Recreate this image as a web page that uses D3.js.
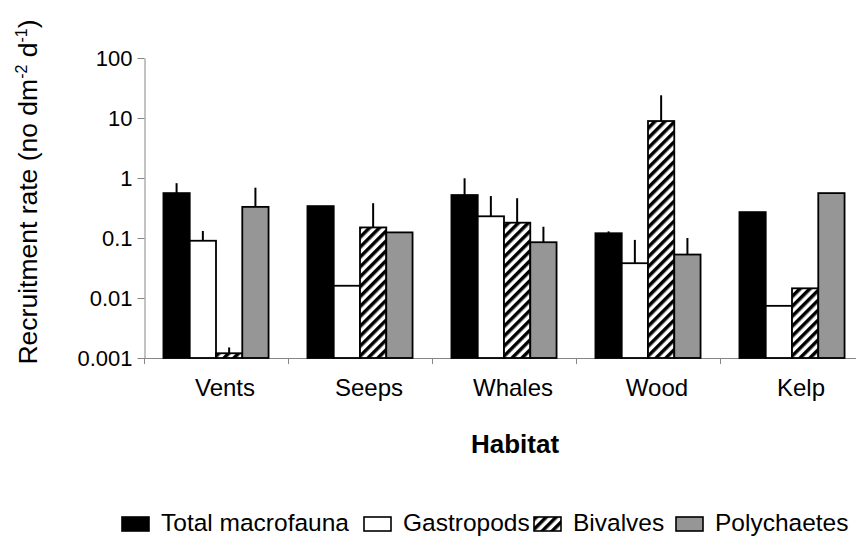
<!DOCTYPE html>
<html>
<head>
<meta charset="utf-8">
<script src="https://cdn.jsdelivr.net/npm/d3@7"></script>
<style>
  body { margin: 0; background: #fff; }
  svg text { font-family: "Liberation Sans", Arial, sans-serif; fill: #000; }
  .axis path, .axis line { stroke: #868686; stroke-width: 1; }
  .axis text { font-size: 22px; }
</style>
</head>
<body>
<div id="chart"></div>
<script>
// habitats and series
const categories = ['Vents', 'Seeps', 'Whales', 'Wood', 'Kelp'];
const seriesNames = ['Total macrofauna', 'Gastropods', 'Bivalves', 'Polychaetes'];

// mean recruitment rates (no dm-2 d-1), one value per habitat
const totalMacrofauna = [0.56, 0.34, 0.52, 0.12, 0.27];
const gastropods = [0.09, 0.016, 0.23, 0.038, 0.0074];
const bivalves = [0.0012, 0.15, 0.18, 8.9, 0.0145];
const polychaetes = [0.33, 0.124, 0.085, 0.053, 0.56];

// upper error (SE), null where no bar was drawn
const totalErr = [0.26, null, 0.47, 0.009, null];
const gastroErr = [0.041, null, 0.27, 0.055, null];
const bivalveErr = [0.0003, 0.23, 0.28, 15, null];
const polyErr = [0.36, null, 0.069, 0.047, null];

const yTicks = [0.001, 0.01, 0.1, 1, 10, 100];
const yTickLabels = ['0.001', '0.01', '0.1', '1', '10', '100'];

const values = [totalMacrofauna, gastropods, bivalves, polychaetes];
const errors = [totalErr, gastroErr, bivalveErr, polyErr];
const fills = ['#000000', '#ffffff', 'url(#hatch)', '#969696'];

const width = 856;
const height = 536;
const plot = { left: 144, right: 864, top: 58, bottom: 358 };

const svg = d3
  .select('#chart')
  .append('svg')
  .attr('width', width)
  .attr('height', height);

// diagonal stripe pattern for the bivalve bars
const defs = svg.append('defs');
defs
  .append('pattern')
  .attr('id', 'hatch')
  .attr('patternUnits', 'userSpaceOnUse')
  .attr('width', 7)
  .attr('height', 7)
  .attr('patternTransform', 'rotate(45)')
  .call((p) => {
    p.append('rect').attr('width', 7).attr('height', 7).attr('fill', '#fff');
    p.append('rect').attr('width', 3.5).attr('height', 7).attr('fill', '#000');
  });

// scales
const x0 = d3.scaleBand().domain(categories).range([plot.left, plot.right]).paddingInner(0).paddingOuter(0);
const x1 = d3.scaleBand().domain(d3.range(seriesNames.length)).range([0, x0.bandwidth()]).paddingInner(0).paddingOuter(0.74);
const y = d3.scaleLog().domain([0.001, 100]).range([plot.bottom, plot.top]);

// x axis line and category ticks
const xAxis = svg.append('g').attr('class', 'axis');
xAxis
  .append('line')
  .attr('x1', plot.left)
  .attr('x2', plot.right)
  .attr('y1', plot.bottom + 0.5)
  .attr('y2', plot.bottom + 0.5);
xAxis
  .selectAll('.ctick')
  .data(categories)
  .join('line')
  .attr('class', 'ctick')
  .attr('x1', (d) => Math.round(x0(d)) + 0.5)
  .attr('x2', (d) => Math.round(x0(d)) + 0.5)
  .attr('y1', plot.bottom)
  .attr('y2', plot.bottom + 6);
svg
  .append('g')
  .selectAll('text')
  .data(categories)
  .join('text')
  .attr('x', (d) => x0(d) + x0.bandwidth() / 2 + 9)
  .attr('y', 396)
  .attr('text-anchor', 'middle')
  .style('font-size', '24px')
  .text((d) => d);

// y axis
svg
  .append('g')
  .attr('class', 'axis')
  .attr('transform', `translate(${plot.left + 0.5},0)`)
  .call(
    d3
      .axisLeft(y)
      .tickValues(yTicks)
      .tickFormat((d, i) => yTickLabels[i])
      .tickSize(7)
      .tickSizeOuter(0)
      .tickPadding(5)
  );

// bars
const groups = svg
  .append('g')
  .selectAll('g')
  .data(categories)
  .join('g')
  .attr('transform', (d) => `translate(${x0(d)},0)`);

groups
  .selectAll('rect')
  .data((d, ci) => values.map((s, si) => ({ si, v: s[ci] })))
  .join('rect')
  .attr('x', (d) => x1(d.si))
  .attr('y', (d) => y(d.v))
  .attr('width', x1.bandwidth())
  .attr('height', (d) => y(0.001) - y(d.v))
  .attr('fill', (d) => fills[d.si])
  .attr('stroke', '#000')
  .attr('stroke-width', 1.8);

// error bars (upper only)
groups
  .selectAll('line')
  .data((d, ci) => values.map((s, si) => ({ si, v: s[ci], e: errors[si][ci] })).filter((d) => d.e != null))
  .join('line')
  .attr('x1', (d) => x1(d.si) + x1.bandwidth() / 2)
  .attr('x2', (d) => x1(d.si) + x1.bandwidth() / 2)
  .attr('y1', (d) => y(d.v))
  .attr('y2', (d) => y(d.v + d.e))
  .attr('stroke', '#000')
  .attr('stroke-width', 2);

// axis titles
const yTitle = svg
  .append('text')
  .attr('transform', 'translate(37,192) rotate(-90)')
  .attr('text-anchor', 'middle')
  .style('font-size', '26.5px');
yTitle.append('tspan').text('Recruitment rate (no dm');
yTitle.append('tspan').attr('dy', -10).style('font-size', '16px').text('-2');
yTitle.append('tspan').attr('dy', 10).text(' d');
yTitle.append('tspan').attr('dy', -10).style('font-size', '16px').text('-1');
yTitle.append('tspan').attr('dy', 10).text(')');

svg
  .append('text')
  .attr('x', 515)
  .attr('y', 453)
  .attr('text-anchor', 'middle')
  .style('font-size', '26px')
  .style('font-weight', 'bold')
  .text('Habitat');

// legend
const legendX = [122, 364, 534, 676];
const legend = svg
  .append('g')
  .selectAll('g')
  .data(seriesNames)
  .join('g')
  .attr('transform', (d, i) => `translate(${legendX[i]},517)`);
legend
  .append('rect')
  .attr('width', 27)
  .attr('height', 14)
  .attr('fill', (d, i) => fills[i])
  .attr('stroke', '#000')
  .attr('stroke-width', 1.6);
legend
  .append('text')
  .attr('x', 39)
  .attr('y', 14)
  .style('font-size', '24.5px')
  .text((d) => d);
</script>
</body>
</html>
